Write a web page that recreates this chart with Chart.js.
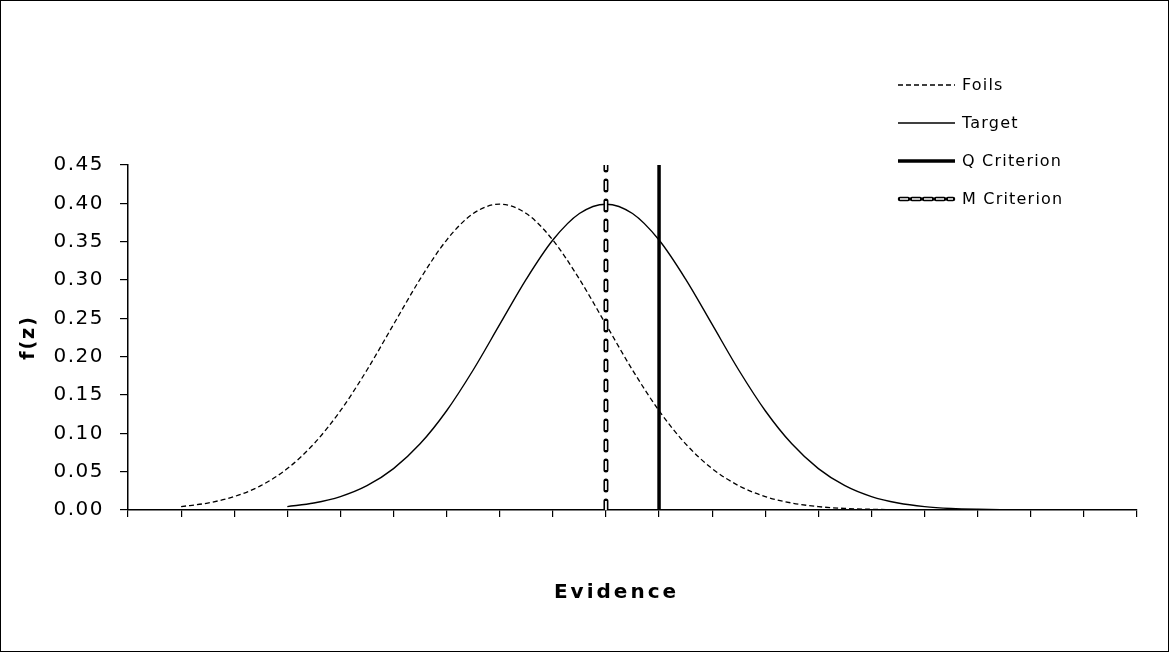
<!DOCTYPE html>
<html>
<head>
<meta charset="utf-8">
<script src="https://cdn.jsdelivr.net/npm/chart.js@4/dist/chart.umd.min.js"></script>
<style>
  html, body { margin: 0; padding: 0; background: #fff; }
  #wrap { width: 1169px; height: 652px; position: relative; }
</style>
</head>
<body>
<div id="wrap">
  <canvas id="chart" width="1169" height="652"></canvas>
</div>
<script>
// z values (evidence) and densities
const foilsZ = [-3, -2.75, -2.5, -2.25, -2, -1.75, -1.5, -1.25, -1, -0.75, -0.5, -0.25, 0,
  0.25, 0.5, 0.75, 1, 1.25, 1.5, 1.75, 2, 2.25, 2.5, 2.75, 3, 3.25, 3.5, 3.75, 4,
  4.25, 4.5, 4.75, 5, 5.25, 5.5, 5.75, 6];
const foilsF = [0.0044, 0.0091, 0.0175, 0.0317, 0.0540, 0.0863, 0.1295, 0.1826, 0.2420, 0.3011, 0.3521, 0.3867, 0.3989,
  0.3867, 0.3521, 0.3011, 0.2420, 0.1826, 0.1295, 0.0863, 0.0540, 0.0317, 0.0175, 0.0091, 0.0044, 0.0020, 0.0009, 0.0004, 0.0001,
  0, 0, 0, 0, 0, 0, 0, 0];

const targetZ = [-2, -1.75, -1.5, -1.25, -1, -0.75, -0.5, -0.25, 0,
  0.25, 0.5, 0.75, 1, 1.25, 1.5, 1.75, 2, 2.25, 2.5, 2.75, 3, 3.25, 3.5, 3.75, 4,
  4.25, 4.5, 4.75, 5, 5.25, 5.5, 5.75, 6];
const targetF = [0.0044, 0.0091, 0.0175, 0.0317, 0.0540, 0.0863, 0.1295, 0.1826, 0.2420,
  0.3011, 0.3521, 0.3867, 0.3989, 0.3867, 0.3521, 0.3011, 0.2420, 0.1826, 0.1295, 0.0863, 0.0540, 0.0317, 0.0175, 0.0091, 0.0044,
  0.0020, 0.0009, 0.0004, 0.0001, 0, 0, 0, 0];

// criterion positions and the height they are drawn to
const qCriterion = 1.5;
const mCriterion = 1.0;
const criterionTop = 0.45;

const yTicks = [0, 0.05, 0.10, 0.15, 0.20, 0.25, 0.30, 0.35, 0.40, 0.45];
const legendLabels = ['Foils', 'Target', 'Q Criterion', 'M Criterion'];

function toPoints(xs, ys) {
  return xs.map((x, i) => ({ x: x, y: ys[i] }));
}

// give a scale's drawing function its own letter spacing (and a nudge)
function spaced(scale, fnName, spacing, dx) {
  const orig = scale[fnName];
  scale[fnName] = function () {
    const c = this.ctx;
    c.save();
    c.letterSpacing = spacing;
    if (dx) c.translate(dx, 0);
    orig.apply(this, arguments);
    c.restore();
  };
}

// legend and outer frame drawn by hand, Excel style
const excelLegend = {
  id: 'excelLegend',
  afterLayout(chart) {
    const x = chart.scales.x, y = chart.scales.y;
    if (!x._spaced) { spaced(x, 'drawTitle', '3px', -16); x._spaced = true; }
    if (!y._spaced) {
      spaced(y, 'drawTitle', '2px', 0);
      spaced(y, 'drawLabels', '1.5px', 0);
      y._spaced = true;
    }
  },
  afterDraw(chart) {
    const ctx = chart.ctx;
    ctx.save();
    ctx.letterSpacing = '1.2px';
    const x0 = 898, x1 = 955, tx = 962;
    const rows = [85, 123, 161, 199];
    ctx.font = '16px "DejaVu Sans"';
    ctx.fillStyle = '#000';
    ctx.textBaseline = 'middle';
    rows.forEach((y, i) => {
      ctx.save();
      ctx.strokeStyle = '#000';
      if (i === 0) { ctx.lineWidth = 1.3; ctx.setLineDash([5, 3]); }
      if (i === 1) { ctx.lineWidth = 1.3; }
      if (i === 2) { ctx.lineWidth = 3.5; }
      if (i === 3) { ctx.lineWidth = 4.5; ctx.setLineDash([8, 4]); ctx.lineCap = 'round'; }
      ctx.beginPath();
      ctx.moveTo(x0 + (i === 3 ? 2 : 0), y);
      ctx.lineTo(x1 - (i === 3 ? 2 : 0), y);
      ctx.stroke();
      if (i === 3) {
        ctx.strokeStyle = '#fff';
        ctx.lineWidth = 1.5;
        ctx.lineCap = 'butt';
        ctx.beginPath();
        ctx.moveTo(x0 + 2, y);
        ctx.lineTo(x1 - 2, y);
        ctx.stroke();
      }
      ctx.restore();
      ctx.fillText(legendLabels[i], tx, y + 1);
    });
    ctx.letterSpacing = '0px';
    ctx.strokeStyle = '#000';
    ctx.lineWidth = 1;
    ctx.strokeRect(0.5, 0.5, 1168, 651);
    ctx.restore();
  }
};

const ctx = document.getElementById('chart');
new Chart(ctx, {
  type: 'scatter',
  data: {
    datasets: [{
      label: 'Foils',
      data: toPoints(foilsZ, foilsF),
      showLine: true,
      borderColor: '#000',
      borderWidth: 1.3,
      borderDash: [5, 3],
      pointRadius: 0,
      cubicInterpolationMode: 'monotone',
      order: 4
    }, {
      label: 'Target',
      data: toPoints(targetZ, targetF),
      showLine: true,
      borderColor: '#000',
      borderWidth: 1.4,
      pointRadius: 0,
      cubicInterpolationMode: 'monotone',
      order: 3
    }, {
      label: 'M Criterion',
      data: toPoints([mCriterion, mCriterion], [0, criterionTop]),
      showLine: true,
      borderColor: '#000',
      borderWidth: 5,
      borderDash: [9, 11],
      borderCapStyle: 'round',
      pointRadius: 0,
      order: 2
    }, {
      label: 'M Criterion inner',
      data: toPoints([mCriterion, mCriterion], [0, criterionTop]),
      showLine: true,
      borderColor: '#fff',
      borderWidth: 1.8,
      borderDash: [9, 11],
      pointRadius: 0,
      order: 1
    }, {
      label: 'Q Criterion',
      data: toPoints([qCriterion, qCriterion], [0, criterionTop]),
      showLine: true,
      borderColor: '#000',
      borderWidth: 3.5,
      pointRadius: 0,
      order: 0
    }]
  },
  options: {
    responsive: false,
    animation: false,
    layout: { padding: { top: 165, right: 32, left: 0, bottom: 0 } },
    plugins: {
      legend: { display: false },
      tooltip: { enabled: false }
    },
    scales: {
      x: {
        type: 'linear',
        min: -3.5,
        max: 6,
        afterFit(scale) { scale.height = 142; },
        ticks: { stepSize: 0.5, callback: () => '' },
        grid: { drawOnChartArea: false, drawTicks: true, tickLength: 7, color: '#000', lineWidth: 1.2 },
        border: { color: '#000', width: 1.5 },
        title: {
          display: true,
          text: 'Evidence',
          color: '#000',
          font: { family: 'DejaVu Sans', size: 20, weight: 'bold' },
          padding: { top: 0, bottom: 47 }
        }
      },
      y: {
        min: 0,
        max: 0.45,
        afterFit(scale) { scale.width = 128; },
        afterBuildTicks(scale) { scale.ticks = yTicks.map(v => ({ value: v })); },
        ticks: {
          color: '#000',
          padding: 16,
          font: { family: 'DejaVu Sans', size: 20 },
          callback: v => v.toFixed(2)
        },
        grid: { drawOnChartArea: false, drawTicks: true, tickLength: 8, color: '#000', lineWidth: 1.2 },
        border: { color: '#000', width: 1.5 },
        title: {
          display: true,
          text: 'f(z)',
          color: '#000',
          font: { family: 'DejaVu Sans', size: 19, weight: 'bold' },
          padding: { top: 18, bottom: 0 }
        }
      }
    }
  },
  plugins: [excelLegend]
});
</script>
</body>
</html>
